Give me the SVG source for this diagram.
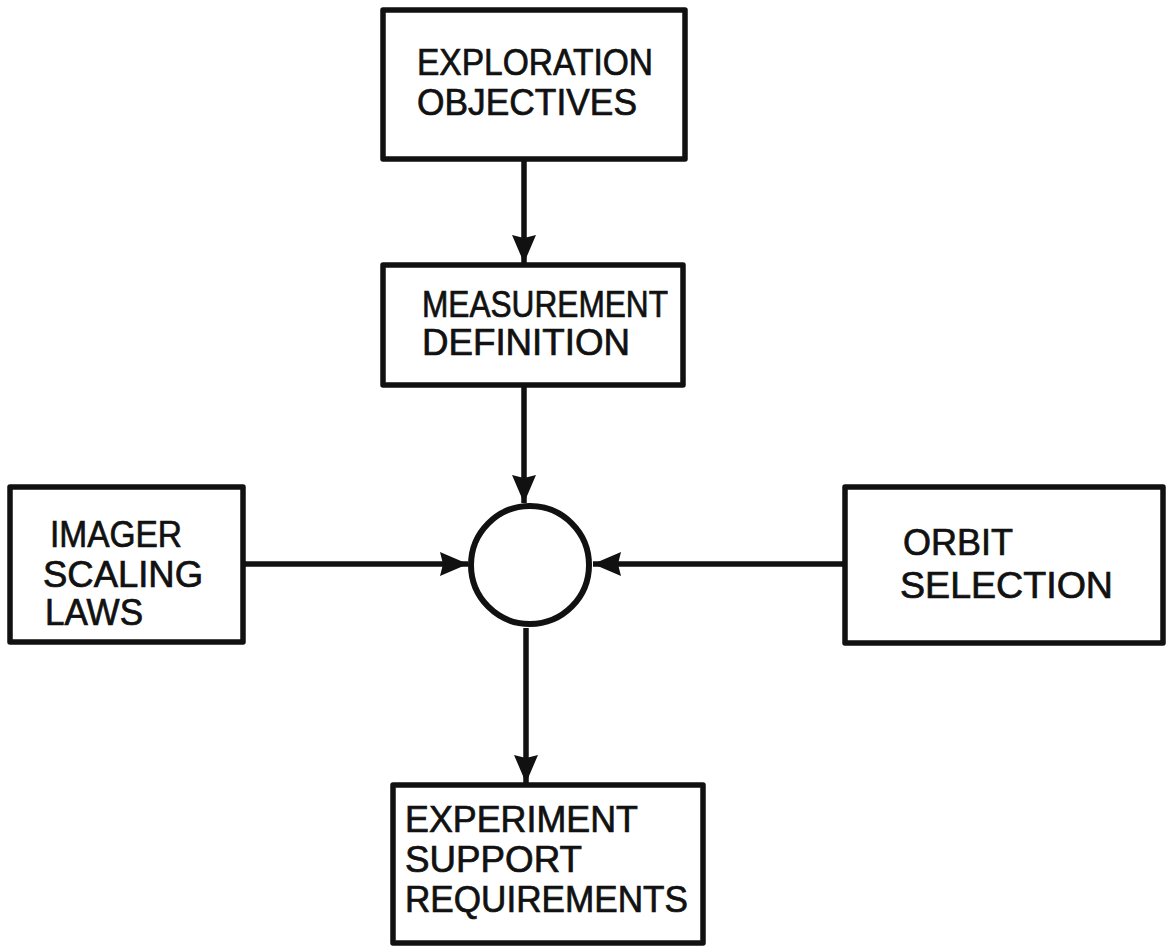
<svg xmlns="http://www.w3.org/2000/svg" width="1167" height="946" viewBox="0 0 1167 946">
  <style>
    .box { fill: #ffffff; stroke: #111111; stroke-width: 5.5; stroke-linejoin: round; }
    .hub { fill: #ffffff; stroke: #111111; stroke-width: 6; }
    .wire { fill: none; stroke: #111111; stroke-width: 5.5; }
    .label { font-family: "Liberation Sans", Arial, sans-serif; font-size: 36px; fill: #111111; stroke: #111111; stroke-width: 0.7; }
  </style>
  <defs>
    <marker id="arrow" viewBox="0 0 28 24" refX="28" refY="12" markerWidth="28" markerHeight="24" markerUnits="userSpaceOnUse" orient="auto">
      <path d="M0,0 L28,12 L0,24 L3,12 Z" fill="#111111"/>
    </marker>
  </defs>
  <rect width="1167" height="946" fill="#ffffff"/>

  <g id="connectors">
    <line class="wire" x1="524" y1="159" x2="524" y2="263" marker-end="url(#arrow)"/>
    <line class="wire" x1="524" y1="385" x2="524" y2="503" marker-end="url(#arrow)"/>
    <line class="wire" x1="243" y1="564" x2="468" y2="564" marker-end="url(#arrow)"/>
    <line class="wire" x1="845" y1="564" x2="593" y2="564" marker-end="url(#arrow)"/>
    <line class="wire" x1="526" y1="628" x2="526" y2="783" marker-end="url(#arrow)"/>
  </g>

  <g id="exploration-objectives">
    <rect class="box" x="383" y="10" width="302" height="149"/>
    <text class="label" x="417" y="75" textLength="236" lengthAdjust="spacingAndGlyphs">EXPLORATION</text>
    <text class="label" x="417" y="115" textLength="220" lengthAdjust="spacingAndGlyphs">OBJECTIVES</text>
  </g>

  <g id="measurement-definition">
    <rect class="box" x="383" y="265" width="300" height="120"/>
    <text class="label" x="422" y="317" textLength="246" lengthAdjust="spacingAndGlyphs">MEASUREMENT</text>
    <text class="label" x="422" y="355" textLength="208" lengthAdjust="spacingAndGlyphs">DEFINITION</text>
  </g>

  <g id="imager-scaling-laws">
    <rect class="box" x="10" y="487" width="233" height="155"/>
    <text class="label" x="50" y="547" textLength="132" lengthAdjust="spacingAndGlyphs">IMAGER</text>
    <text class="label" x="43" y="587" textLength="160" lengthAdjust="spacingAndGlyphs">SCALING</text>
    <text class="label" x="45" y="625" textLength="98" lengthAdjust="spacingAndGlyphs">LAWS</text>
  </g>

  <g id="junction">
    <circle class="hub" cx="530" cy="565" r="59"/>
  </g>

  <g id="orbit-selection">
    <rect class="box" x="845" y="487" width="318" height="156"/>
    <text class="label" x="903" y="555" textLength="110" lengthAdjust="spacingAndGlyphs">ORBIT</text>
    <text class="label" x="900" y="598" textLength="213" lengthAdjust="spacingAndGlyphs">SELECTION</text>
  </g>

  <g id="experiment-support-requirements">
    <rect class="box" x="393" y="785" width="310" height="158"/>
    <text class="label" x="405" y="832" textLength="233" lengthAdjust="spacingAndGlyphs">EXPERIMENT</text>
    <text class="label" x="405" y="872" textLength="177" lengthAdjust="spacingAndGlyphs">SUPPORT</text>
    <text class="label" x="405" y="912" textLength="283" lengthAdjust="spacingAndGlyphs">REQUIREMENTS</text>
  </g>
</svg>
